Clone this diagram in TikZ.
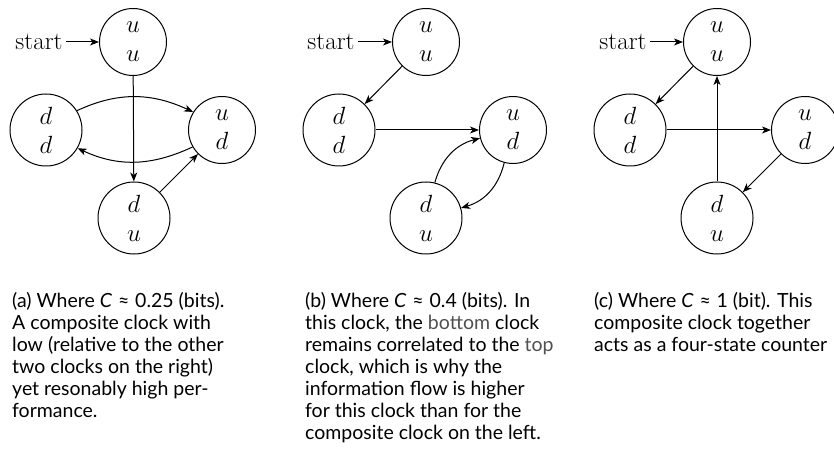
\documentclass[tikz,border=0pt]{standalone}
\usepackage{fontspec}
\usetikzlibrary{arrows.meta}
\newfontfamily\capfont{Lato}
\definecolor{capgray}{RGB}{80,80,80}
\newcommand{\approxsym}{\hspace{0.3em}≈\hspace{0.3em}}
\begin{document}
\begin{tikzpicture}[x=1pt,y=1pt,
  state/.style={circle,draw,line width=1pt,inner sep=0pt,align=center,
    font=\fontsize{25}{29}\selectfont},
  small/.style={state,minimum size=67pt},
  large/.style={state,minimum size=72pt},
  startlbl/.style={font=\fontsize{25}{29}\selectfont},
  edge/.style={line width=1pt,-{Stealth[length=9pt,width=7pt,inset=2.5pt]}},
  caption/.style={anchor=base west,inner sep=0pt,align=left,
    font=\capfont\fontsize{19.5}{22}\selectfont}]
\useasboundingbox (0,0) rectangle (834,466);

% ---- (a) ----
\node[small] (ta) at (133,424) {$u$\\$u$};
\node[large] (la) at (46,336) {$d$\\$d$};
\node[small] (ra) at (222,336) {$u$\\$d$};
\node[large] (ba) at (134,248) {$d$\\$u$};
\node[startlbl,anchor=east] (sa) at (66,424) {start};
\draw[edge] (sa) -- (ta);
\draw[edge] (ta) -- (ba);
\draw[edge] (la.32) to[out=25,in=155] (ra.148);
\draw[edge] (ra.210) to[out=205,in=-25] (la.330);
\draw[edge] (ba) -- (ra);

% ---- (b) ----
\node[small] (tb) at (426,424) {$u$\\$u$};
\node[large] (lb) at (339,336) {$d$\\$d$};
\node[small] (rb) at (513,336) {$u$\\$d$};
\node[large] (bb) at (426,248) {$d$\\$u$};
\node[startlbl,anchor=east] (sb) at (358,424) {start};
\draw[edge] (sb) -- (tb);
\draw[edge] (tb) -- (lb);
\draw[edge] (lb) -- (rb);
\draw[edge] (bb.76) to[bend left=30] (rb.194);
\draw[edge] (rb.255) to[bend left=30] (bb.16);

% ---- (c) ----
\node[small] (tc) at (717,424) {$u$\\$u$};
\node[large] (lc) at (630,336) {$d$\\$d$};
\node[small] (rc) at (805,336) {$u$\\$d$};
\node[large] (bc) at (717,248) {$d$\\$u$};
\node[startlbl,anchor=east] (sc) at (650,424) {start};
\draw[edge] (sc) -- (tc);
\draw[edge] (tc) -- (lc);
\draw[edge] (lc) -- (rc);
\draw[edge] (rc) -- (bc);
\draw[edge] (bc) -- (tc);

% ---- captions (anchored on the baseline of their last line) ----
\node[caption] (capa) at (12,49) {(a) Where \textit{C}\approxsym 0.25 (bits).\\
A composite clock with\\
low (relative to the other\\
two clocks on the right)\\
yet resonably high per-\\
formance.};
\node[caption] (capb) at (305,27) {(b) Where \textit{C}\approxsym 0.4 (bits). In\\
this clock, the \textcolor{capgray}{bottom} clock\\
remains correlated to the \textcolor{capgray}{top}\\
clock, which is why the\\
information flow is higher\\
for this clock than for the\\
composite clock on the left.};
\node[caption] (capc) at (594,115) {(c) Where \textit{C}\approxsym 1 (bit). This\\
composite clock together\\
acts as a four-state counter};
\end{tikzpicture}
\end{document}
